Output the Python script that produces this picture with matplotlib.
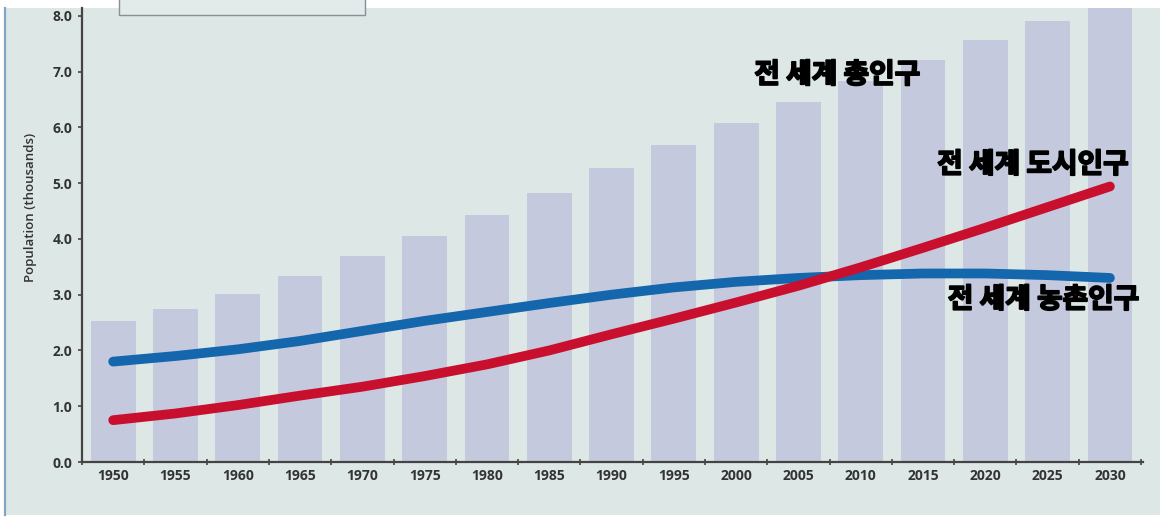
import matplotlib.pyplot as plt
import matplotlib.patheffects as pe
import numpy as np
from matplotlib.patches import Rectangle

# world population, billions (axis label kept as printed)
years = ["1950", "1955", "1960", "1965", "1970", "1975", "1980", "1985", "1990",
         "1995", "2000", "2005", "2010", "2015", "2020", "2025", "2030"]
total = [2.52, 2.75, 3.02, 3.33, 3.69, 4.06, 4.43, 4.83, 5.27, 5.68, 6.07,
         6.45, 6.83, 7.20, 7.56, 7.90, 8.24]
urban = [0.75, 0.87, 1.02, 1.19, 1.35, 1.54, 1.75, 2.00, 2.29, 2.57, 2.86,
         3.16, 3.49, 3.84, 4.20, 4.57, 4.94]
rural = [1.80, 1.90, 2.02, 2.17, 2.35, 2.53, 2.69, 2.85, 3.00, 3.13, 3.23,
         3.30, 3.35, 3.38, 3.38, 3.35, 3.30]

bg = "#dde7e6"
fig = plt.figure(figsize=(11.6, 5.18), dpi=100, facecolor="white")

# panel background + left border
fig.patches.append(Rectangle((0.004, 0.006), 0.996, 0.978, transform=fig.transFigure,
                             facecolor=bg, edgecolor="none", zorder=-2))
fig.lines.append(plt.Line2D([0.0047, 0.0047], [0.006, 0.984], transform=fig.transFigure,
                            color="#7fa8c8", lw=1.6))

ax = fig.add_axes([0.0707, 0.1081, 0.9146, 0.8765])
ax.set_facecolor(bg)
x = np.arange(len(years))

ax.bar(x, total, width=0.72, color="#c5c9de", zorder=1)
ax.plot(x, rural, color="#1466ad", lw=7, solid_capstyle="round", zorder=3)
ax.plot(x, urban, color="#c8102e", lw=7, solid_capstyle="round", zorder=4)

ax.set_xlim(-0.46, 16.53)
ax.set_ylim(0, 8.14)

for s in ["top", "right"]:
    ax.spines[s].set_visible(False)
for s in ["left", "bottom"]:
    ax.spines[s].set_color("#444444")
    ax.spines[s].set_linewidth(1.6)

tick_font = dict(family="Open Sans", weight="bold", size=10)
ax.set_yticks(np.arange(0, 9, 1.0))
ax.set_yticklabels([f"{v:.1f}" for v in np.arange(0, 9, 1.0)], color="#333333", **tick_font)
ax.tick_params(axis="y", direction="out", length=3, width=1.2, color="#444444", pad=4)

ax.set_xticks(x)
ax.set_xticklabels(years, color="#333333", **tick_font)
ax.tick_params(axis="x", length=0, pad=5)
ax.set_xticks(np.arange(-0.5, 17, 1.0), minor=True)
ax.tick_params(axis="x", which="minor", direction="inout", length=5, width=1.2, color="#444444")

ax.set_ylabel("Population (thousands)", family="Open Sans", weight="semibold",
              size=9.5, color="#333333")
ax.yaxis.set_label_coords(-0.042, 0.56)

# legend frame running off the top edge
ax.add_patch(Rectangle((0.0352, 0.9851), 0.2311, 0.1, transform=ax.transAxes,
                       facecolor="#e3eaea", edgecolor="#8a8f96", lw=1.0, clip_on=False, zorder=5))

# heavy black captions
kfont = dict(family=["Noto Sans CJK KR", "DejaVu Sans"], weight="bold", size=20,
             color="black", zorder=6,
             path_effects=[pe.withStroke(linewidth=1.3, foreground="black")])
ax.text(11.62, 6.94, "전 세계 총인구", ha="center", va="center", **kfont)
ax.text(14.76, 5.33, "전 세계 도시인구", ha="center", va="center", **kfont)
ax.text(14.93, 2.91, "전 세계 농촌인구", ha="center", va="center", **kfont)

fig.savefig("out.png", dpi=100, facecolor="white")
